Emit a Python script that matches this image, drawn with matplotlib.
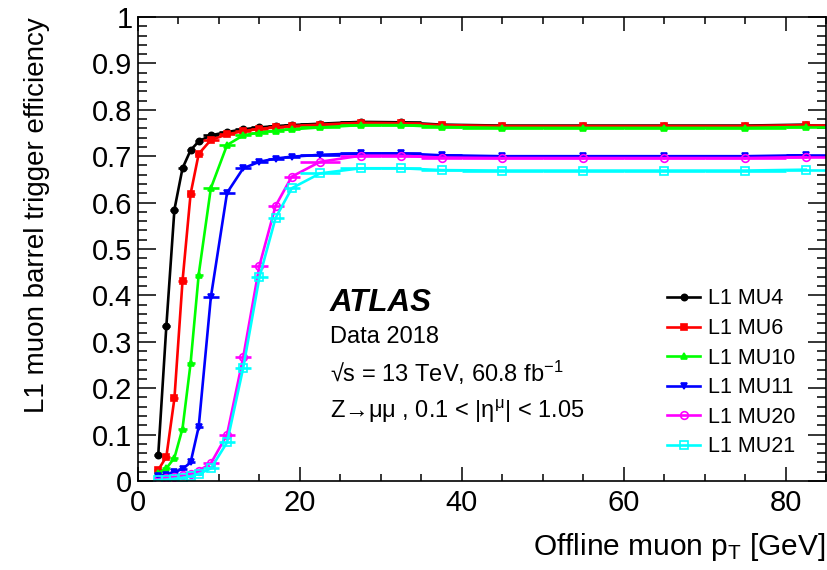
import numpy as np
import matplotlib
matplotlib.use("Agg")
import matplotlib.pyplot as plt
from matplotlib.ticker import MultipleLocator

plt.rcParams["font.family"] = ["Liberation Sans", "DejaVu Sans"]
plt.rcParams["mathtext.fontset"] = "custom"
plt.rcParams["mathtext.rm"] = "Liberation Sans"
plt.rcParams["mathtext.it"] = "Liberation Sans:italic"
plt.rcParams["mathtext.bf"] = "Liberation Sans:bold"

# pT bin edges [GeV]
pt_edges = [2, 3, 4, 5, 6, 7, 8, 10, 12, 14, 16, 18, 20, 25, 30, 35, 40, 50, 60, 70, 80, 85]

# efficiency per bin
eff_mu4 = [0.056, 0.333, 0.585, 0.674, 0.713, 0.732, 0.745, 0.752, 0.758, 0.762, 0.765,
           0.767, 0.770, 0.774, 0.773, 0.768, 0.766, 0.766, 0.766, 0.766, 0.768]
eff_mu6 = [0.024, 0.052, 0.178, 0.431, 0.619, 0.705, 0.735, 0.747, 0.754, 0.759, 0.762,
           0.765, 0.768, 0.772, 0.771, 0.767, 0.765, 0.765, 0.765, 0.765, 0.767]
eff_mu10 = [0.017, 0.027, 0.050, 0.113, 0.254, 0.445, 0.631, 0.724, 0.745, 0.751, 0.755,
            0.758, 0.762, 0.767, 0.767, 0.763, 0.761, 0.761, 0.761, 0.761, 0.763]
eff_mu11 = [0.010, 0.014, 0.019, 0.026, 0.040, 0.117, 0.396, 0.621, 0.674, 0.688, 0.695,
            0.699, 0.703, 0.706, 0.706, 0.702, 0.700, 0.700, 0.700, 0.700, 0.702]
eff_mu20 = [0.004, 0.006, 0.009, 0.012, 0.016, 0.022, 0.038, 0.100, 0.267, 0.464, 0.593,
            0.656, 0.688, 0.701, 0.701, 0.697, 0.696, 0.696, 0.696, 0.696, 0.698]
eff_mu21 = [0.002, 0.003, 0.005, 0.007, 0.010, 0.015, 0.027, 0.083, 0.244, 0.439, 0.567,
            0.631, 0.663, 0.674, 0.674, 0.670, 0.669, 0.669, 0.669, 0.669, 0.671]

labels = ["L1 MU4", "L1 MU6", "L1 MU10", "L1 MU11", "L1 MU20", "L1 MU21"]

edges = np.array(pt_edges, dtype=float)
pt = 0.5 * (edges[1:] + edges[:-1])
pt_err = 0.5 * (edges[1:] - edges[:-1])

styles = [
    dict(color="black", marker="o", ms=4.5, mfc="black"),
    dict(color="#ff0000", marker="s", ms=4.5, mfc="#ff0000"),
    dict(color="#00ff00", marker="^", ms=5, mfc="#00ff00"),
    dict(color="#0000ff", marker="v", ms=5, mfc="#0000ff"),
    dict(color="#ff00ff", marker="o", ms=5.5, mfc="none"),
    dict(color="#00ffff", marker="s", ms=5.5, mfc="none"),
]
series = [eff_mu4, eff_mu6, eff_mu10, eff_mu11, eff_mu20, eff_mu21]

fig = plt.figure(figsize=(8.27, 5.70), dpi=100)
ax = fig.add_axes([138 / 827, 1 - 481 / 570, 688 / 827, 464 / 570])

for eff, st, lab in zip(series, styles, labels):
    ax.errorbar(pt, eff, xerr=pt_err, fmt="none", ecolor=st["color"], elinewidth=1.9,
                capsize=0)
    ax.plot(pt, eff, color=st["color"], lw=1.9, marker=st["marker"], ms=st["ms"],
            mfc=st["mfc"], mec=st["color"], mew=1.2, label=lab)

ax.set_xlim(0, 85)
ax.set_ylim(0, 1)

ax.xaxis.set_major_locator(MultipleLocator(20))
ax.xaxis.set_minor_locator(MultipleLocator(5))
ax.yaxis.set_major_locator(MultipleLocator(0.1))
ax.yaxis.set_minor_locator(MultipleLocator(0.02))
ax.set_yticks(np.arange(0, 1.01, 0.1))
ax.set_yticklabels(["0", "0.1", "0.2", "0.3", "0.4", "0.5", "0.6", "0.7", "0.8", "0.9", "1"])

ax.tick_params(axis="both", which="both", direction="in", top=True, right=True,
               width=1.1, labelsize=21, colors="black")
ax.tick_params(axis="y", which="major", length=13, pad=4)
ax.tick_params(axis="y", which="minor", length=6.5)
ax.tick_params(axis="x", which="major", length=10, pad=6)
ax.tick_params(axis="x", which="minor", length=5)
for sp in ax.spines.values():
    sp.set_linewidth(1.2)

ax.set_xlabel(r"Offline muon p$_{\mathrm{T}}$ [GeV]", fontsize=21.5, loc="right", labelpad=10)
ax.set_ylabel("L1 muon barrel trigger efficiency", fontsize=20, loc="top", labelpad=30)

tx = 0.279
ax.text(tx, 0.367, "ATLAS", transform=ax.transAxes, fontsize=22.5, fontweight="bold",
        fontstyle="italic", va="baseline")
ax.text(tx, 0.297, "Data 2018", transform=ax.transAxes, fontsize=17, va="baseline")
ax.text(tx, 0.214, r"√s = 13 TeV, 60.8 fb$^{\mathrm{-1}}$", transform=ax.transAxes,
        fontsize=17, va="baseline")
ax.text(tx, 0.135, r"Z→μμ , 0.1 < |η$^{\mathrm{μ}}$| < 1.05", transform=ax.transAxes,
        fontsize=17, va="baseline")

ax.legend(loc="upper left", bbox_to_anchor=(0.769, 0.415), frameon=False, fontsize=15.5,
          borderaxespad=0, borderpad=0, handlelength=1.55, handletextpad=0.36,
          labelspacing=0.4, numpoints=1)

fig.savefig("out.png", dpi=100)
